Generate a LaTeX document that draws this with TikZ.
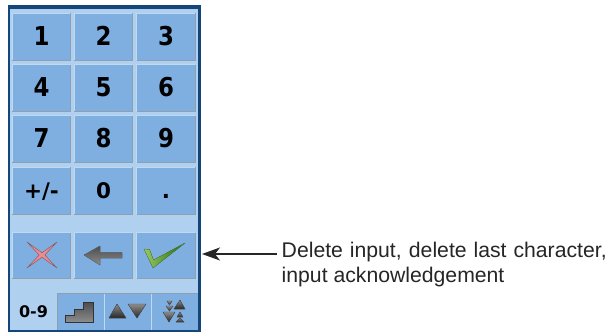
\documentclass[tikz,border=0pt]{standalone}
\usepackage{fontspec}
\setmainfont{Liberation Sans}
\newfontfamily\keyfont{DejaVu Sans}
\newfontfamily\digitfont[FakeStretch=0.88]{DejaVu Sans}
\usetikzlibrary{arrows.meta}
\definecolor{frameblue}{HTML}{14467A}
\definecolor{panelblue}{HTML}{B0D0F0}
\definecolor{keyblue}{HTML}{7FAEE0}
\definecolor{keylight}{HTML}{BFD9F2}
\definecolor{keydark}{HTML}{8F9FB2}
\definecolor{crosspink}{HTML}{F08C90}
\definecolor{crossdark}{HTML}{8A5A68}
\definecolor{checklight}{HTML}{9CC860}
\definecolor{checkdark}{HTML}{1E6A10}
\tikzset{
  x=1pt,y=-1pt,
  keybox/.style={minimum width=58.5pt,minimum height=47pt,fill=keyblue,draw=none,inner sep=0pt,outer sep=0pt,
    font=\digitfont\bfseries\fontsize{26}{26}\selectfont,text=black,text height=19pt,text depth=2pt},
  smallkey/.style={keybox,font=\keyfont\bfseries\fontsize{21.5}{22}\selectfont,text height=17pt},
  actionkey/.style={keybox,minimum height=45.6pt},
  tabtext/.style={font=\keyfont\bfseries\fontsize{16}{16}\selectfont,text=black},
  notetext/.style={font=\fontsize{21.2}{25}\selectfont,text=black!85,align=left,inner sep=0pt,anchor=north west},
  edgeL/.style={keylight,line width=1.2pt},
  edgeD/.style={keydark,line width=1.2pt},
  icongray/.style={top color=black!70,bottom color=black!45,draw=black!60,line width=.4pt},
  icontri/.style={top color=black!45,bottom color=black!85,draw=black!70,line width=.4pt}
}
\newcommand{\keyedge}[1]{%
  \draw[edgeL] (#1.south west) -- (#1.north west) -- (#1.north east);
  \draw[edgeD] (#1.north east) -- (#1.south east) -- (#1.south west);}
\begin{document}
\begin{tikzpicture}
\useasboundingbox (0,0) rectangle (610,332);
\fill[white] (0,0) rectangle (610,332);
\fill[frameblue] (8,5) rectangle (201,332);
\fill[panelblue] (10,9) rectangle (198,330);
% keys
\foreach \nm/\cx/\cy/\lab in {k1/41.5/36.8/1,k2/103.5/36.8/2,k3/166/36.8/3,
  k4/41.5/88/4,k5/103.5/88/5,k6/166/88/6,
  k7/41.5/139.3/7,k8/103.5/139.3/8,k9/166/139.3/9}{
  \node[keybox] (\nm) at (\cx,\cy) {\lab};
  \keyedge{\nm}
}
\foreach \nm/\cx/\lab in {kpm/41.5/{+/-},k0/103.5/0,kdot/166/.}{
  \node[smallkey] (\nm) at (\cx,190.7) {\lab};
  \keyedge{\nm}
}
\foreach \nm/\cx in {kx/41.5,kb/103.5,kc/166}{
  \node[actionkey] (\nm) at (\cx,255.5) {};
  \keyedge{\nm}
}
% cross
\fill[crosspink,draw=crossdark,line width=.5pt,line join=round]
  (27,242) -- (42,252.8) -- (57,242) -- (44.8,255) -- (57,268) -- (42,257.2) -- (27,268) -- (39.2,255) -- cycle;
% back arrow
\fill[icongray] (84,255) -- (100,246) -- (100,252.5) -- (122,252.5) -- (122,258) -- (100,258) -- (100,265) -- cycle;
% check
\fill[left color=checklight,right color=checkdark,draw=checkdark!80,line width=.3pt,line join=round]
  (144,249) -- (149.5,249.5) -- (153.5,260) -- (185,243) -- (153,268) -- cycle;
% tabs
\fill[keyblue] (57,294) rectangle (198,330);
\draw[keydark,line width=.8pt] (57,330) -- (57,293.5) -- (198,293.5);
\draw[keylight,line width=.8pt] (104.3,294) -- (104.3,330) (151.3,294) -- (151.3,330);
\node[tabtext] (tab09) at (33.5,311.5) {0-9};
\fill[icongray,draw=black!80,line width=.6pt] (65,322) -- (65,315) -- (74,315) -- (74,309) -- (83,309) -- (83,302) -- (93,302) -- (93,322) -- cycle;
\fill[icontri] (117,304) -- (126,318) -- (109,318) -- cycle;
\fill[icontri] (128,304) -- (146,304) -- (137,318) -- cycle;
\fill[icontri] (180,300) -- (185,309) -- (174,309) -- cycle;
\fill[icontri] (163,312) -- (175,312) -- (169,322) -- cycle;
\fill[icontri] (167,301) -- (172,301) -- (169.5,305) -- cycle;
\fill[icontri] (166,306) -- (173,306) -- (169.5,311) -- cycle;
\fill[icontri] (180,312) -- (183,317) -- (177,317) -- cycle;
\fill[icontri] (180,318) -- (184,322) -- (176,322) -- cycle;
% note
\node[notetext] (note) at (281.5,241.5) {\makebox[325pt][s]{Delete input, delete last character,}\\input acknowledgement};
\coordinate (notearrow) at (277,254);
\coordinate (notetip) at (202,254);
\draw[-{Stealth[length=18pt,width=13pt,inset=5pt]},line width=1.3pt,black!85] (notearrow) -- (notetip);
\end{tikzpicture}
\end{document}
